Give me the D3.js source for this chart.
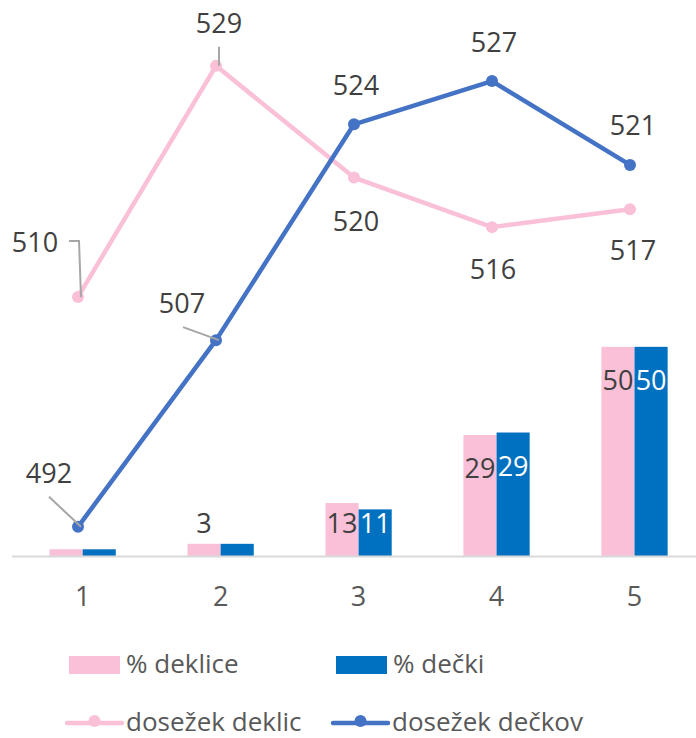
<!DOCTYPE html>
<html lang="sl">
<head>
    <meta charset="UTF-8">
    <title>Dosežek in delež po ravneh</title>
    <script src="https://d3js.org/d3.v7.min.js"></script>
    <style>
        body {
            margin: 0;
            background: #fff;
            font-family: 'Open Sans', sans-serif;
        }
        .tick-label {
            fill: #595959;
            font-size: 27px;
        }
        .legend-text {
            fill: #595959;
            font-size: 26px;
        }
        .data-label {
            fill: #404040;
            font-size: 27px;
            text-anchor: middle;
        }
        .leader {
            fill: none;
            stroke: #a6a6a6;
            stroke-width: 2;
        }
    </style>
</head>
<body>
    <div id="chart"></div>
    <script>
        // Data
        const categories = ["1", "2", "3", "4", "5"];
        const pctGirls = [1.6, 2.9, 12.6, 28.8, 49.8];
        const pctBoys = [1.6, 2.9, 11.1, 29.4, 49.8];
        const scoreGirls = [510.4, 528.6, 519.8, 515.9, 517.3];
        const scoreBoys = [492.3, 507.0, 524.0, 527.4, 520.8];
        const showGirlsBarLabel = [false, true, true, true, true];
        const seriesNames = ["% deklice", "% dečki", "dosežek deklic", "dosežek dečkov"];

        const pink = "#f9c0d8";
        const barBlue = "#0070c0";
        const lineBlue = "#4472c4";

        // label placement for line points: [dx, baseline dy, leader path]
        const girlsLabelPos = [
            { dx: -43, dy: -45, leader: [[-9, -56], [1, -56], [3, 0]] },
            { dx: 3, dy: -33, leader: [[3, -19], [3, 0]] },
            { dx: 2, dy: 53 },
            { dx: 1, dy: 52 },
            { dx: 3, dy: 51 }
        ];
        const boysLabelPos = [
            { dx: -29, dy: -44, leader: [[-29, -30], [3, 0]] },
            { dx: -34, dy: -27, leader: [[-33, -13], [3, 0]] },
            { dx: 2, dy: -29 },
            { dx: 2, dy: -29 },
            { dx: 3, dy: -30 }
        ];

        const W = 696, H = 738;
        const plotTop = 10, base = 556;

        const svg = d3.select("#chart").append("svg")
            .attr("width", W)
            .attr("height", H);

        // Scales
        const x = d3.scaleBand()
            .domain(categories)
            .range([13.7, 703.5])
            .paddingInner(0.52)
            .paddingOuter(0.26);

        const x1 = d3.scaleBand()
            .domain(["g", "b"])
            .range([0, x.bandwidth()]);

        const yBar = d3.scaleLinear().domain([0, 130]).range([base, plotTop]);
        const yLine = d3.scaleLinear().domain([490, 533]).range([base, plotTop]);

        const xl = d3.scalePoint().domain(categories).range([78, 630]);

        // Bars
        const barData = categories.map((c, i) => ({ c, g: pctGirls[i], b: pctBoys[i], i }));
        const groups = svg.append("g").selectAll("g")
            .data(barData)
            .join("g")
            .attr("transform", d => `translate(${x(d.c)},0)`);

        groups.append("rect")
            .attr("x", x1("g"))
            .attr("y", d => yBar(d.g))
            .attr("width", x1.bandwidth())
            .attr("height", d => base - yBar(d.g))
            .attr("fill", pink);

        groups.append("rect")
            .attr("x", x1("b"))
            .attr("y", d => yBar(d.b))
            .attr("width", x1.bandwidth())
            .attr("height", d => base - yBar(d.b))
            .attr("fill", barBlue);

        // Axis line + tick labels
        svg.append("line")
            .attr("x1", 12).attr("x2", W)
            .attr("y1", base + 0.5).attr("y2", base + 0.5)
            .attr("stroke", "#d9d9d9")
            .attr("stroke-width", 2);

        svg.append("g").selectAll("text")
            .data(categories)
            .join("text")
            .attr("class", "tick-label")
            .attr("x", d => x(d) + x.bandwidth() / 2)
            .attr("y", 606)
            .attr("text-anchor", "middle")
            .text(d => d);

        // Lines
        const line = (ys) => d3.line()
            .x((d, i) => xl(categories[i]))
            .y(d => ys(d));

        function drawLine(values, color) {
            svg.append("path")
                .datum(values)
                .attr("fill", "none")
                .attr("stroke", color)
                .attr("stroke-width", 4.5)
                .attr("stroke-linejoin", "round")
                .attr("d", line(yLine));
            svg.append("g").selectAll("circle")
                .data(values)
                .join("circle")
                .attr("cx", (d, i) => xl(categories[i]))
                .attr("cy", d => yLine(d))
                .attr("r", 6)
                .attr("fill", color);
        }
        drawLine(scoreGirls, pink);
        drawLine(scoreBoys, lineBlue);

        // Bar labels (inside end, clamped near the base)
        const fmt = d3.format(".0f");
        const barLabelY = v => Math.min(yBar(v) + 43, base - 23);

        groups.filter(d => showGirlsBarLabel[d.i]).append("text")
            .attr("class", "data-label")
            .attr("x", x1("g") + x1.bandwidth() / 2)
            .attr("y", d => barLabelY(d.g))
            .text(d => fmt(d.g));

        groups.append("text")
            .attr("class", "data-label")
            .attr("x", x1("b") + x1.bandwidth() / 2)
            .attr("y", d => barLabelY(d.b))
            .style("fill", "#fff")
            .text(d => fmt(d.b));

        // Line labels + leaders
        function lineLabels(values, pos) {
            const g = svg.append("g");
            values.forEach((v, i) => {
                const px = xl(categories[i]), py = yLine(v);
                const p = pos[i];
                if (p.leader) {
                    g.append("path")
                        .attr("class", "leader")
                        .attr("d", d3.line()(p.leader.map(q => [px + q[0], py + q[1]])));
                }
                g.append("text")
                    .attr("class", "data-label")
                    .attr("x", px + p.dx)
                    .attr("y", py + p.dy)
                    .text(fmt(v));
            });
        }
        lineLabels(scoreGirls, girlsLabelPos);
        lineLabels(scoreBoys, boysLabelPos);

        // Legend
        const legend = svg.append("g");
        const legendItems = [
            { name: seriesNames[0], type: "bar", color: pink, x: 69, y: 665 },
            { name: seriesNames[1], type: "bar", color: barBlue, x: 336, y: 665 },
            { name: seriesNames[2], type: "line", color: pink, x: 67, y: 723 },
            { name: seriesNames[3], type: "line", color: lineBlue, x: 333, y: 723 }
        ];
        legendItems.forEach(it => {
            if (it.type === "bar") {
                legend.append("rect")
                    .attr("x", it.x).attr("y", it.y - 9)
                    .attr("width", 51).attr("height", 18)
                    .attr("fill", it.color);
            } else {
                legend.append("line")
                    .attr("x1", it.x).attr("x2", it.x + 55)
                    .attr("y1", it.y).attr("y2", it.y)
                    .attr("stroke", it.color)
                    .attr("stroke-width", 4.5)
                    .attr("stroke-linecap", "round");
                legend.append("circle")
                    .attr("cx", it.x + 27.5).attr("cy", it.y - 2)
                    .attr("r", 6)
                    .attr("fill", it.color);
            }
            legend.append("text")
                .attr("class", "legend-text")
                .attr("x", it.type === "bar" ? it.x + 57 : it.x + 59)
                .attr("y", it.y + 8)
                .text(it.name);
        });
    </script>
</body>
</html>
